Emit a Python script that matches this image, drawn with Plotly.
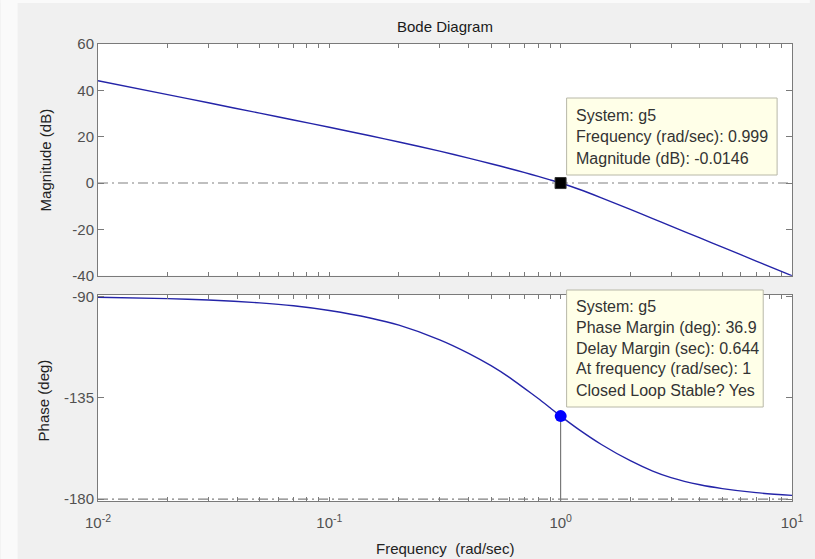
import plotly.graph_objects as go

# ---------------- data ----------------
freq = [0.01, 0.02, 0.03, 0.05, 0.07, 0.1, 0.15, 0.2, 0.3, 0.4, 0.5, 0.6, 0.7,
        0.8, 0.9, 1.0, 1.2, 1.5, 2.0, 2.5, 3.0, 4.0, 5.0, 7.0, 10.0]
mag_db = [44.16, 38.14, 34.62, 30.16, 27.21, 24.07, 20.41, 17.72, 13.76, 10.76, 8.34,
          6.28, 4.47, 2.85, 1.37, 0.0, -2.69, -6.37, -11.37, -15.34, -18.59, -23.71,
          -27.68, -33.67, -40.0]
phase_deg = [-90.3, -90.9, -91.5, -92.8, -94.1, -96.2, -99.5, -102.7, -109.2, -115.2,
             -120.7, -125.9, -130.9, -135.3, -139.4, -143.1, -149.1, -155.7, -162.9,
             -167.5, -170.4, -173.6, -175.3, -177.1, -178.3]

gain_cross_freq = 0.999
gain_cross_mag = -0.0146
pm_freq = 1.0
pm_phase = -143.1

mag_ticks = [60, 40, 20, 0, -20, -40]
phase_ticks = [-90, -135, -180]
decades = [0.01, 0.1, 1, 10]
decade_labels = ["10<sup>-2</sup>", "10<sup>-1</sup>", "10<sup>0</sup>", "10<sup>1</sup>"]

box1_lines = ["System: g5", "Frequency (rad/sec): 0.999", "Magnitude (dB): -0.0146"]
box2_lines = ["System: g5", "Phase Margin (deg): 36.9", "Delay Margin (sec): 0.644",
              "At frequency (rad/sec): 1", "Closed Loop Stable? Yes"]

# ---------------- layout helpers ----------------
W, H = 815, 559
L, R, T, B = 98, 797, 44, 501
PW, PH = R - L, B - T


def px(x):
    return (x - L) / PW


def py(y):
    return (B - y) / PH


minor_vals = [d * m for d in decades[:-1] for m in range(2, 10)]

FONT = "Liberation Sans, Arial, sans-serif"
CURVE = "#2424a8"
AXC = "#7a7a7a"
TICKF = dict(family=FONT, size=15, color="#505050")

fig = go.Figure()

# magnitude
fig.add_trace(go.Scatter(x=freq, y=mag_db, mode="lines", xaxis="x2", yaxis="y2",
                         line=dict(color=CURVE, width=1.4, shape="spline", smoothing=0.6),
                         hoverinfo="skip"))
fig.add_trace(go.Scatter(x=[0.01, 10], y=[0, 0], mode="lines", xaxis="x2", yaxis="y2",
                         line=dict(color="#808080", width=1.2, dash="10px,4px,2px,4px"),
                         hoverinfo="skip"))
fig.add_trace(go.Scatter(x=[gain_cross_freq], y=[gain_cross_mag], mode="markers",
                         xaxis="x2", yaxis="y2",
                         marker=dict(symbol="square", size=11, color="black",
                                     line=dict(color="#333", width=1)),
                         hoverinfo="skip"))

# phase
fig.add_trace(go.Scatter(x=freq, y=phase_deg, mode="lines", xaxis="x", yaxis="y",
                         line=dict(color=CURVE, width=1.4, shape="spline", smoothing=0.6),
                         hoverinfo="skip"))
fig.add_trace(go.Scatter(x=[0.01, 10], y=[-180, -180], mode="lines", xaxis="x", yaxis="y",
                         line=dict(color="#808080", width=1.2, dash="10px,4px,2px,4px"),
                         hoverinfo="skip"))
fig.add_trace(go.Scatter(x=[pm_freq, pm_freq], y=[pm_phase, -180.8], mode="lines",
                         xaxis="x", yaxis="y",
                         line=dict(color="#606060", width=1), hoverinfo="skip"))
fig.add_trace(go.Scatter(x=[pm_freq], y=[pm_phase], mode="markers", xaxis="x", yaxis="y",
                         marker=dict(symbol="circle", size=12, color="#0000ff"),
                         hoverinfo="skip"))

common_x = dict(type="log", range=[-2, 1], tickvals=decades, ticktext=decade_labels,
                ticks="inside", ticklen=4, tickcolor=AXC, showline=True, linecolor=AXC,
                linewidth=1, mirror="allticks", showgrid=False, zeroline=False,
                tickfont=TICKF, ticklabelstandoff=8,
                minor=dict(tickvals=minor_vals, ticks="inside", ticklen=4,
                           tickcolor=AXC, showgrid=False))
common_y = dict(ticks="inside", ticklen=6, tickcolor=AXC, showline=True, linecolor=AXC,
                linewidth=1, mirror="allticks", showgrid=False, zeroline=False,
                tickfont=TICKF)

fig.update_layout(
    width=W, height=H,
    margin=dict(l=L, r=W - R, t=T, b=H - B),
    paper_bgcolor="#f0f0f0", plot_bgcolor="white",
    showlegend=False,
    xaxis=dict(common_x, anchor="y"),
    yaxis=dict(common_y, domain=[0, py(295)], range=[-180.8, -89.3],
               tickvals=phase_ticks, ticktext=[str(v) for v in phase_ticks]),
    xaxis2=dict(common_x, anchor="y2", showticklabels=False),
    yaxis2=dict(common_y, domain=[py(275.7), 1], range=[-40, 60],
                tickvals=mag_ticks, ticktext=[str(v) for v in mag_ticks]),
)

shapes = []
# page strip on left / top
shapes.append(dict(type="rect", xref="paper", yref="paper", x0=px(0), x1=px(17),
                   y0=py(H), y1=py(0), fillcolor="#fafafa", line=dict(width=0), layer="below"))
shapes.append(dict(type="rect", xref="paper", yref="paper", x0=px(0), x1=px(W),
                   y0=py(3), y1=py(0), fillcolor="#fafafa", line=dict(width=0), layer="below"))
# datatip boxes
for (x0, x1, y0, y1) in [(570, 782, 98, 175), (570, 768, 290, 407)]:
    shapes.append(dict(type="rect", xref="paper", yref="paper", x0=px(x0), x1=px(x1),
                       y0=py(y1), y1=py(y0), fillcolor="#ffffe8",
                       line=dict(color="#b8b8a8", width=1), layer="above"))
fig.update_layout(shapes=shapes)

ann = []
TXT = dict(family=FONT, size=16, color="#333333")
for i, t in enumerate(box1_lines):
    ann.append(dict(text=t, xref="paper", yref="paper", x=px(577), y=py(115 + 21.5 * i),
                    xanchor="left", yanchor="middle", showarrow=False, font=TXT))
for i, t in enumerate(box2_lines):
    ann.append(dict(text=t, xref="paper", yref="paper", x=px(577), y=py(306 + 21 * i),
                    xanchor="left", yanchor="middle", showarrow=False, font=TXT))
ann.append(dict(text="Bode Diagram", xref="paper", yref="paper", x=px(448), y=py(27),
                xanchor="center", yanchor="middle", showarrow=False,
                font=dict(family=FONT, size=15, color="#1a1a1a")))
ann.append(dict(text="Frequency\u00a0 (rad/sec)", xref="paper", yref="paper", x=px(448),
                y=py(548), xanchor="center", yanchor="middle", showarrow=False,
                font=dict(family=FONT, size=15, color="#222222")))
ann.append(dict(text="Magnitude (dB)", xref="paper", yref="paper", x=px(45), y=py(160),
                xanchor="center", yanchor="middle", showarrow=False, textangle=-90,
                font=dict(family=FONT, size=15, color="#222222")))
ann.append(dict(text="Phase (deg)", xref="paper", yref="paper", x=px(43), y=py(400),
                xanchor="center", yanchor="middle", showarrow=False, textangle=-90,
                font=dict(family=FONT, size=15, color="#222222")))
fig.update_layout(annotations=ann)

fig.write_html("out.html",
               config={"displayModeBar": False},
               post_script="document.body.style.margin='0';"
                           "document.body.style.overflow='hidden';")
